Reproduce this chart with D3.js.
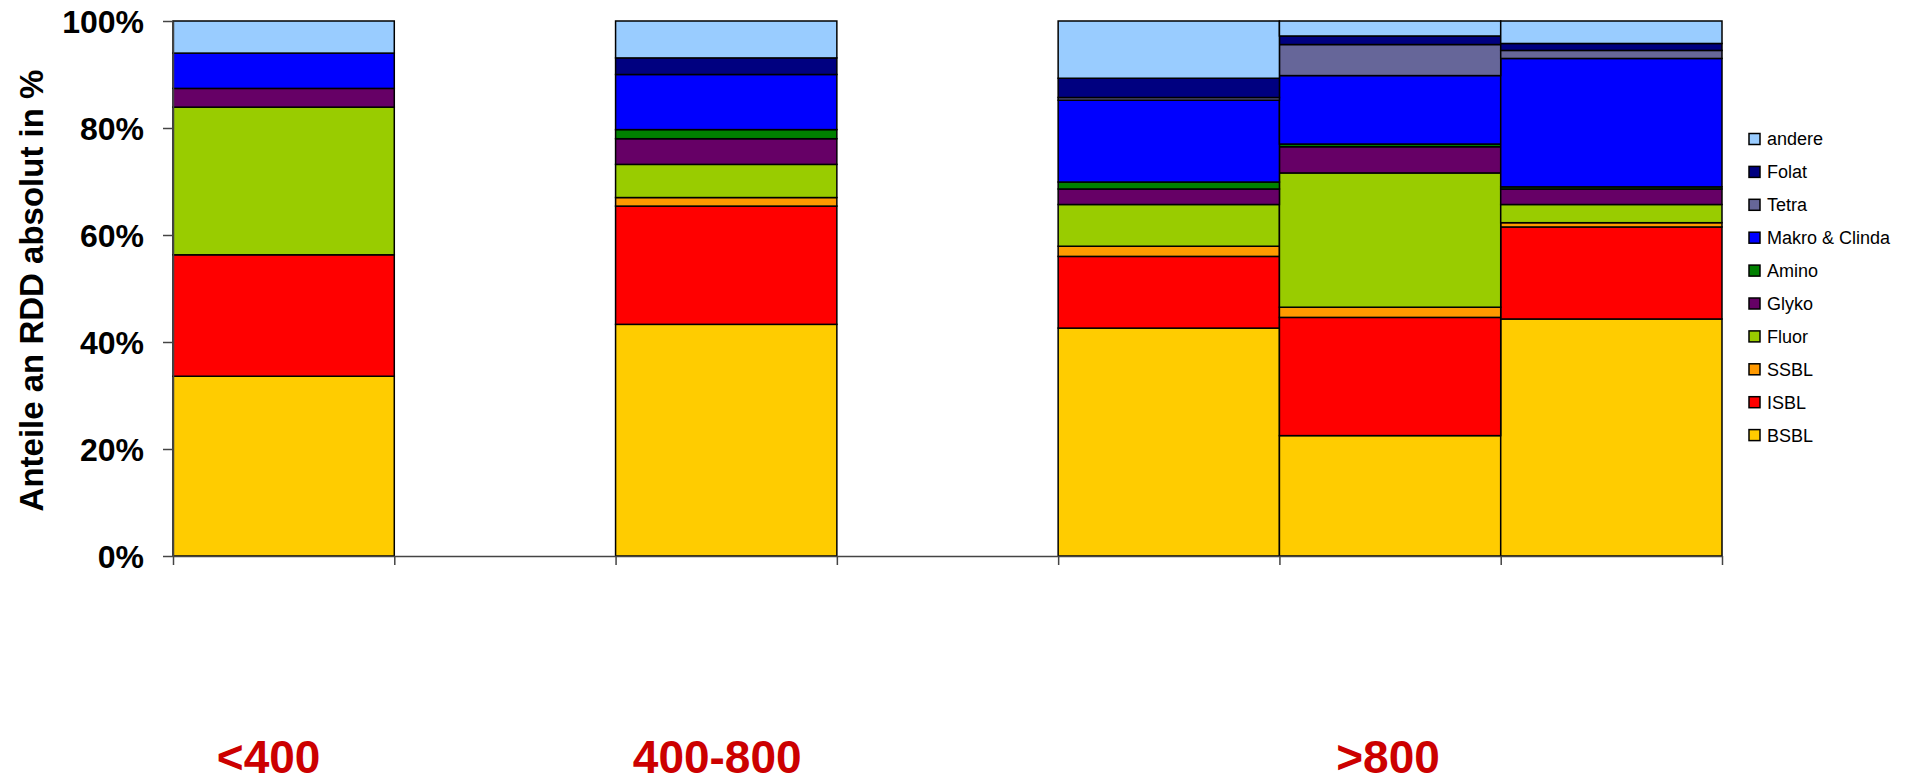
<!DOCTYPE html>
<html>
<head>
<meta charset="utf-8">
<script src="https://cdn.jsdelivr.net/npm/d3@7"></script>
<style>
  html, body { margin: 0; padding: 0; background: #fff; }
  svg { display: block; }
</style>
</head>
<body>
<svg id="chart" width="1912" height="784"></svg>
<script>
// ---- data ----
const slots = [0, 1, 2, 3, 4, 5, 6];            // category slots on the x axis
const barSlots = [0, 2, 4, 5, 6];               // slots that carry a bar
const seriesNames = ["BSBL", "ISBL", "SSBL", "Fluor", "Glyko", "Amino", "Makro & Clinda", "Tetra", "Folat", "andere"];
const seriesColors = ["#FFCC00", "#FF0000", "#FF9900", "#99CC00", "#660066", "#008000", "#0000FF", "#666699", "#000080", "#99CCFF"];
const BSBL   = [33.6, 43.3, 42.6, 22.5, 44.3];
const ISBL   = [22.7, 22.1, 13.4, 22.1, 17.2];
const SSBL   = [0.0, 1.6, 1.9, 1.9, 0.8];
const Fluor  = [27.6, 6.2, 7.8, 25.1, 3.4];
const Glyko  = [3.5, 4.8, 2.9, 4.9, 2.9];
const Amino  = [0.0, 1.7, 1.3, 0.5, 0.4];
const Makro  = [6.6, 10.3, 15.3, 12.8, 24.0];
const Tetra  = [0.0, 0.0, 0.5, 5.8, 1.5];
const Folat  = [0.0, 3.1, 3.6, 1.6, 1.3];
const andere = [6.0, 6.9, 10.7, 2.8, 4.2];
const yTicks = [0, 20, 40, 60, 80, 100];
const groupLabels = ["<400", "400-800", ">800"];
const groupSlots = [0, 2, 5];
const yTitle = "Anteile an RDD absolut in %";

// ---- build table ----
const seriesArrays = [BSBL, ISBL, SSBL, Fluor, Glyko, Amino, Makro, Tetra, Folat, andere];
const table = barSlots.map((s, i) => {
  const row = { slot: s };
  seriesNames.forEach((n, k) => row[n] = seriesArrays[k][i]);
  return row;
});
const stacked = d3.stack().keys(seriesNames)(table);

// ---- layout ----
const svg = d3.select("#chart");
const plotLeft = 173, plotRight = 1722, plotTop = 21, plotBottom = 556;

const x = d3.scaleBand().domain(slots).range([plotLeft, plotRight]).padding(0);
const xLin = d3.scaleLinear().domain([0, slots.length]).range([plotLeft, plotRight]);
const y = d3.scaleLinear().domain([0, 100]).range([plotBottom, plotTop]);
const color = d3.scaleOrdinal().domain(seriesNames).range(seriesColors);

// bars
svg.append("g").selectAll("g").data(stacked).join("g")
  .attr("fill", d => color(d.key))
  .selectAll("rect").data(d => d).join("rect")
  .attr("x", d => x(d.data.slot))
  .attr("width", x.bandwidth())
  .attr("y", d => y(d[1]))
  .attr("height", d => Math.max(0, y(d[0]) - y(d[1])))
  .attr("stroke", "#000")
  .attr("stroke-width", 1.5)
  .attr("stroke-opacity", d => (d[1] - d[0]) > 0 ? 1 : 0);

// x axis
const xAxis = svg.append("g")
  .attr("transform", `translate(0,${plotBottom})`)
  .call(d3.axisBottom(xLin).tickValues(d3.range(0, slots.length + 1)).tickFormat("").tickSize(9).tickSizeOuter(0));
xAxis.select(".domain").attr("stroke", "#444").attr("stroke-width", 1.5);
xAxis.selectAll(".tick line").attr("stroke", "#444").attr("stroke-width", 1.5);

// y axis
const yAxis = svg.append("g")
  .attr("transform", `translate(${plotLeft},0)`)
  .call(d3.axisLeft(y).tickValues(yTicks).tickFormat(d => d + "%").tickSize(10).tickSizeOuter(0).tickPadding(19));
yAxis.select(".domain").attr("stroke", "#444").attr("stroke-width", 1.5);
yAxis.selectAll(".tick line").attr("stroke", "#444").attr("stroke-width", 1.5);
yAxis.selectAll(".tick text")
  .attr("font-family", "Liberation Sans, Arial, sans-serif")
  .attr("font-weight", "bold")
  .attr("font-size", 32)
  .attr("fill", "#000")
  .attr("dy", "0.36em");

// y title
svg.append("text")
  .attr("transform", `translate(43,${(plotTop + plotBottom) / 2 + 2}) rotate(-90)`)
  .attr("text-anchor", "middle")
  .attr("font-family", "Liberation Sans, Arial, sans-serif")
  .attr("font-weight", "bold")
  .attr("font-size", 33)
  .attr("fill", "#000")
  .text(yTitle);

// legend (reverse order, andere at top)
const legendItems = seriesNames.slice().reverse();
const lg = svg.append("g").attr("transform", "translate(1749,139)");
const li = lg.selectAll("g").data(legendItems).join("g")
  .attr("transform", (d, i) => `translate(0,${i * 32.9})`);
li.append("rect")
  .attr("x", 0).attr("y", -5.5).attr("width", 11).attr("height", 11)
  .attr("fill", d => color(d)).attr("stroke", "#000").attr("stroke-width", 1.5);
li.append("text")
  .attr("x", 18).attr("y", 0).attr("dy", "0.36em")
  .attr("font-family", "Liberation Sans, Arial, sans-serif")
  .attr("font-size", 18)
  .attr("fill", "#000")
  .text(d => d);

// group labels
const labelOffsets = [-15, -9, -2];
svg.append("g").selectAll("text").data(groupLabels).join("text")
  .attr("x", (d, i) => x(groupSlots[i]) + x.bandwidth() / 2 + labelOffsets[i])
  .attr("y", 773)
  .attr("text-anchor", "middle")
  .attr("font-family", "Liberation Sans, Arial, sans-serif")
  .attr("font-weight", "bold")
  .attr("font-size", 46)
  .attr("fill", "#CC0000")
  .text(d => d);
</script>
</body>
</html>
